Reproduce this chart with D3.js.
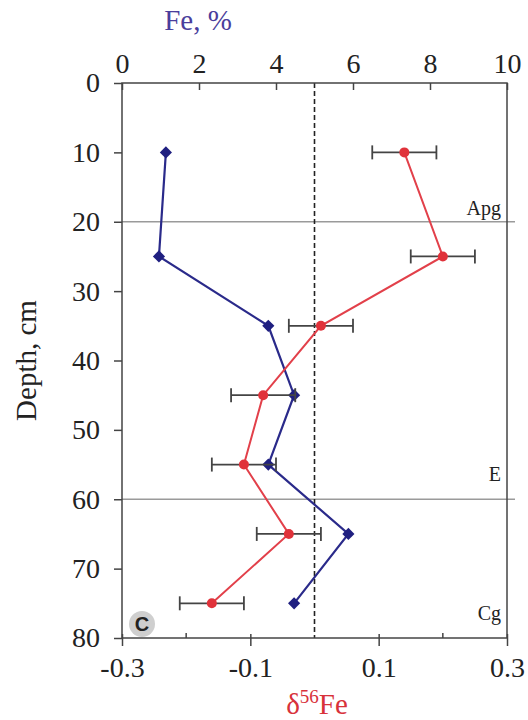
<!DOCTYPE html>
<html>
<head>
<meta charset="utf-8">
<script src="https://d3js.org/d3.v7.min.js"></script>
<style>
  body { margin: 0; background: #fff; }
  svg text { font-family: "Liberation Serif", "Times New Roman", serif; }
</style>
</head>
<body>
<div id="graph-area"></div>
<script>
    // depths of the samples, cm
    const depth = [10, 25, 35, 45, 55, 65, 75];
    // Fe content, % (top axis)
    const fe = [1.14, 0.96, 3.8, 4.47, 3.8, 5.88, 4.47];
    // delta 56Fe (bottom axis) and error
    const d56 = [0.14, 0.20, 0.01, -0.08, -0.11, -0.04, -0.16];
    const d56err = [0.05, 0.05, 0.05, 0.05, 0.05, 0.05, 0.05];

    const depthTicks = [0, 10, 20, 30, 40, 50, 60, 70, 80];
    const feTicks = [0, 2, 4, 6, 8, 10];
    const dLabels = [-0.3, -0.1, 0.1, 0.3];
    const dMinor = [-0.2, 0.2];

    // horizon boundaries and names
    const horizonLines = [20, 60];
    const horizons = [
        { name: "Apg", depth: 19 },
        { name: "E", depth: 57.4 },
        { name: "Cg", depth: 77.4 }
    ];

    const w = 528;
    const h = 720;
    const pLeft = 122, pRight = 507, pTop = 83, pBottom = 638;
    const serif = "'Liberation Serif', 'Times New Roman', serif";

    const yScale = d3.scaleLinear().domain([0, 80]).range([pTop, pBottom]);
    const xFe = d3.scaleLinear().domain([0, 10]).range([pLeft, pRight]);
    const xD = d3.scaleLinear().domain([-0.3, 0.3]).range([pLeft, pRight]);

    const blue = "#2a2a8a";
    const red = "#e0323a";

    const svg = d3.select("#graph-area").append("svg")
                  .attr("width", w)
                  .attr("height", h);

    // horizon lines
    svg.selectAll(".hz")
       .data(horizonLines)
       .enter()
       .append("line")
       .attr("x1", pLeft)
       .attr("x2", pRight + 8)
       .attr("y1", d => yScale(d))
       .attr("y2", d => yScale(d))
       .attr("stroke", "#9a9a9a")
       .attr("stroke-width", 1.5);

    // dashed line at zero
    svg.append("line")
       .attr("x1", xD(0)).attr("x2", xD(0))
       .attr("y1", pTop).attr("y2", pBottom)
       .attr("stroke", "#222")
       .attr("stroke-width", 1.6)
       .attr("stroke-dasharray", "5,3");

    // frame
    svg.append("rect")
       .attr("x", pLeft).attr("y", pTop)
       .attr("width", pRight - pLeft).attr("height", pBottom - pTop)
       .attr("fill", "none")
       .attr("stroke", "#444")
       .attr("stroke-width", 1.5);

    // top axis (Fe)
    const topAxis = svg.append("g")
       .attr("transform", "translate(0," + pTop + ")")
       .call(d3.axisTop(xFe).tickValues(feTicks).tickSizeInner(-7).tickSizeOuter(0).tickPadding(10));
    // left axis (depth)
    const leftAxis = svg.append("g")
       .attr("transform", "translate(" + pLeft + ",0)")
       .call(d3.axisLeft(yScale).tickValues(depthTicks).tickSizeInner(8).tickSizeOuter(0).tickPadding(14));
    // bottom axis (delta)
    const botAxis = svg.append("g")
       .attr("transform", "translate(0," + pBottom + ")")
       .call(d3.axisBottom(xD).tickValues(dLabels).tickSizeInner(8).tickSizeOuter(0).tickPadding(11)
                .tickFormat(d => d3.format(".1f")(d).replace("−", "-")));

    [topAxis, leftAxis, botAxis].forEach(function(g) {
        g.attr("font-family", serif).attr("font-size", 28);
        g.select(".domain").remove();
        g.selectAll("line").attr("stroke", "#444").attr("stroke-width", 1.5);
        g.selectAll("text")
         .attr("font-family", serif)
         .style("font-family", serif)
         .style("font-size", "28px")
         .attr("fill", "#222");
    });
    botAxis.selectAll(".tick line").attr("y1", -4);

    // minor inner ticks on the bottom
    svg.selectAll(".minor")
       .data(dMinor)
       .enter()
       .append("line")
       .attr("x1", d => xD(d)).attr("x2", d => xD(d))
       .attr("y1", pBottom - 5).attr("y2", pBottom)
       .attr("stroke", "#444")
       .attr("stroke-width", 1.5);

    // Fe line
    const feData = depth.map((d, i) => [fe[i], d]);
    svg.append("path")
       .datum(feData)
       .attr("fill", "none")
       .attr("stroke", blue)
       .attr("stroke-width", 2.2)
       .attr("d", d3.line().x(d => xFe(d[0])).y(d => yScale(d[1])));

    svg.selectAll(".diamond")
       .data(feData)
       .enter()
       .append("path")
       .attr("transform", d => "translate(" + xFe(d[0]) + "," + yScale(d[1]) + ") rotate(45)")
       .attr("d", "M-4.3,-4.3H4.3V4.3H-4.3Z")
       .attr("fill", "#1f1f80");

    // delta 56Fe line with error bars
    const dData = depth.map((d, i) => [d56[i], d, d56err[i]]);

    const eb = svg.selectAll(".err")
       .data(dData)
       .enter()
       .append("g")
       .attr("stroke", "#444")
       .attr("stroke-width", 1.8);
    eb.append("line")
       .attr("x1", d => xD(d[0] - d[2])).attr("x2", d => xD(d[0] + d[2]))
       .attr("y1", d => yScale(d[1])).attr("y2", d => yScale(d[1]));
    eb.append("line")
       .attr("x1", d => xD(d[0] - d[2])).attr("x2", d => xD(d[0] - d[2]))
       .attr("y1", d => yScale(d[1]) - 7).attr("y2", d => yScale(d[1]) + 7);
    eb.append("line")
       .attr("x1", d => xD(d[0] + d[2])).attr("x2", d => xD(d[0] + d[2]))
       .attr("y1", d => yScale(d[1]) - 7).attr("y2", d => yScale(d[1]) + 7);

    svg.append("path")
       .datum(dData)
       .attr("fill", "none")
       .attr("stroke", "#e2404a")
       .attr("stroke-width", 2)
       .attr("d", d3.line().x(d => xD(d[0])).y(d => yScale(d[1])));

    svg.selectAll(".dot")
       .data(dData)
       .enter()
       .append("circle")
       .attr("cx", d => xD(d[0]))
       .attr("cy", d => yScale(d[1]))
       .attr("r", 5)
       .attr("fill", red);

    // horizon names
    svg.selectAll(".hname")
       .data(horizons)
       .enter()
       .append("text")
       .attr("x", pRight - 6)
       .attr("y", d => yScale(d.depth))
       .attr("text-anchor", "end")
       .style("font-size", "20px")
       .attr("fill", "#222")
       .text(d => d.name);

    // panel badge
    svg.append("circle")
       .attr("cx", 142).attr("cy", 624).attr("r", 13)
       .attr("fill", "#cfcfcf");
    svg.append("text")
       .attr("x", 142).attr("y", 631)
       .attr("text-anchor", "middle")
       .style("font-family", "'Liberation Sans', Arial, sans-serif")
       .style("font-size", "20px")
       .style("font-weight", "bold")
       .attr("fill", "#222")
       .text("C");

    // axis titles
    svg.append("text")
       .attr("x", 198).attr("y", 30)
       .attr("text-anchor", "middle")
       .style("font-size", "29px")
       .attr("fill", "#4a3e9c")
       .text("Fe, %");

    const dt = svg.append("text")
       .attr("x", 317).attr("y", 714)
       .attr("text-anchor", "middle")
       .style("font-size", "29px")
       .attr("fill", "#d8323a");
    dt.append("tspan").text("δ");
    dt.append("tspan").attr("dy", -11).style("font-size", "19px").text("56");
    dt.append("tspan").attr("dy", 11).text("Fe");

    svg.append("text")
       .attr("transform", "translate(36," + ((pTop + pBottom) / 2) + ") rotate(-90)")
       .attr("text-anchor", "middle")
       .style("font-size", "29px")
       .attr("fill", "#222")
       .text("Depth, cm");
</script>
</body>
</html>
